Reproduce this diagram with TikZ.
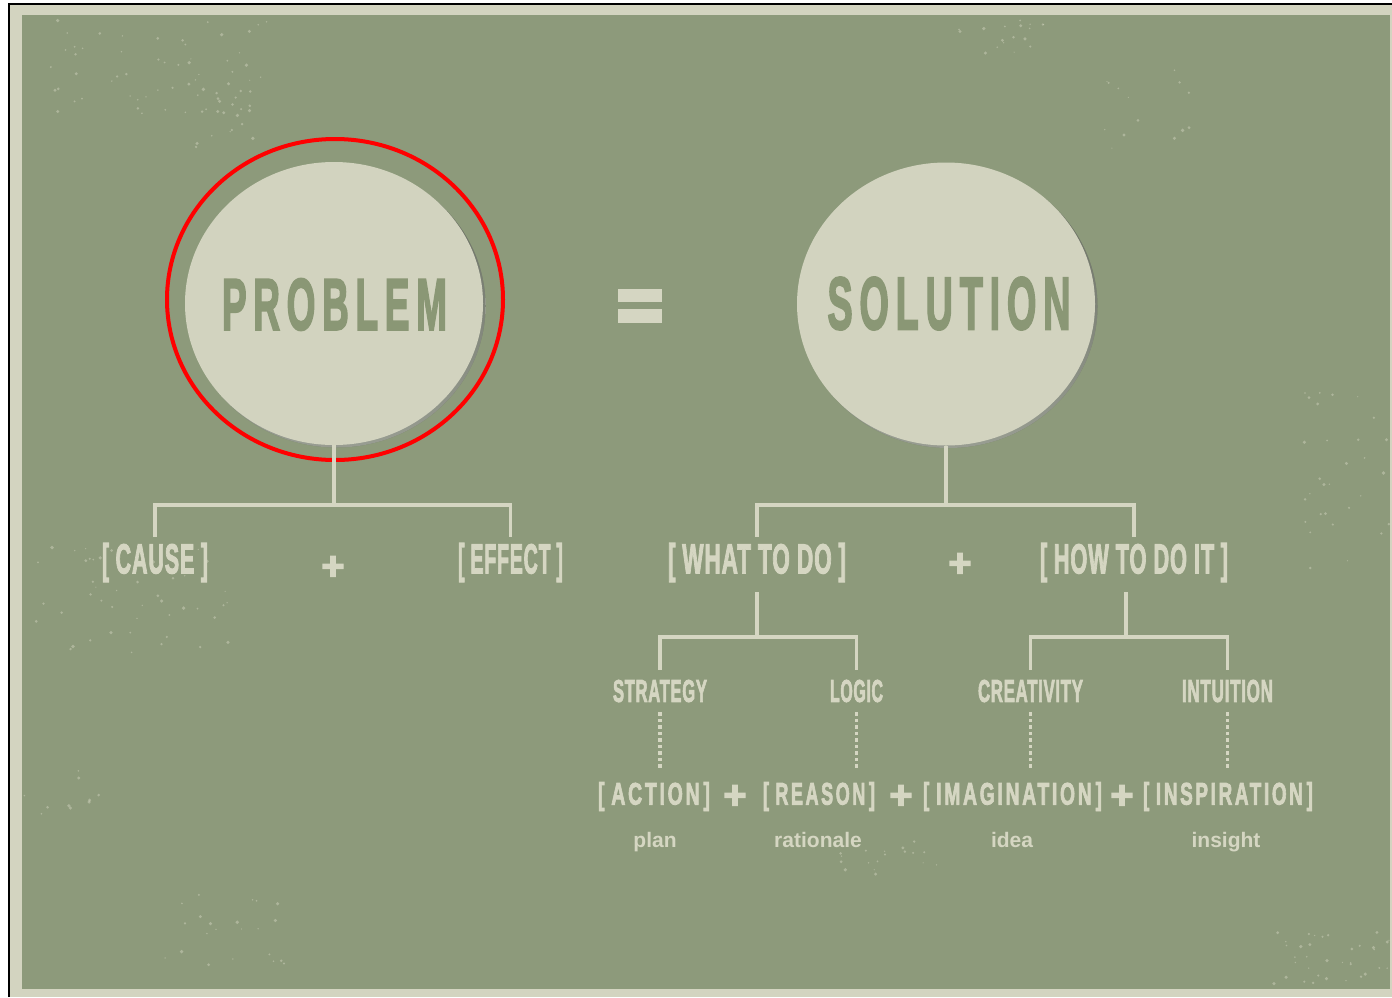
\documentclass[tikz,border=0pt]{standalone}
\usepackage{fontspec}
\setmainfont{Liberation Sans}
\newfontfamily\heavy{Liberation Sans}[BoldFeatures={FakeBold=3}]
\newfontfamily\heavysp{Liberation Sans}[BoldFeatures={FakeBold=3, LetterSpace=18}]
\newfontfamily\heavymid{Liberation Sans}[BoldFeatures={FakeBold=3, LetterSpace=4}]
\newfontfamily\heavywide{Liberation Sans}[BoldFeatures={FakeBold=3, LetterSpace=14}]
\usepackage{graphicx}
\usetikzlibrary{shapes.geometric}
\definecolor{bg}{HTML}{8D9A7B}
\definecolor{framec}{HTML}{D3D4C0}
\definecolor{ink}{HTML}{D5D6C2}
\definecolor{disc}{HTML}{D2D3BF}
\definecolor{darkink}{HTML}{8A9775}
\definecolor{shade}{HTML}{7D896B}
\definecolor{hl}{HTML}{FF0000}
\newcommand{\capsfit}[3]{\resizebox{#1pt}{#2pt}{\heavymid\bfseries #3}}
\newcommand{\bigfit}[3]{\resizebox{#1pt}{#2pt}{\heavysp\bfseries #3}}
\newcommand{\brkfit}[3]{\resizebox*{#1pt}{#2pt}{\heavymid\bfseries [\hspace{0.3em}#3\hspace{0.3em}]}}
\newcommand{\brkwide}[3]{\resizebox*{#1pt}{#2pt}{\heavywide\bfseries [\hspace{0.35em}#3\hspace{0.2em}]}}
\newcommand{\specks}[5]{%
  \foreach \k in {1,...,#5}{%
    \pgfmathsetmacro{\spx}{#1+#3*rand}%
    \pgfmathsetmacro{\spy}{#2+#4*rand}%
    \pgfmathsetmacro{\spr}{0.6+1.3*rnd}%
    \fill[ink, opacity=0.45] (\spx,\spy) circle[radius=\spr];
  }}
\tikzset{
  lbl/.style={text=ink, inner xsep=0pt, inner ysep=6pt},
  caplbl/.style={text=ink, inner xsep=0pt, inner ysep=10pt},
  lowlbl/.style={text=ink, inner xsep=0pt, inner ysep=12pt},
  tree/.style={draw=ink, line width=3.5pt, line join=miter},
  dots/.style={draw=ink, line width=3.5pt, dash pattern=on 3.5pt off 3pt},
  plussign/.style={text=ink, font=\fontsize{40}{40}\selectfont\heavy\bfseries, inner sep=0pt},
  sublbl/.style={text=ink, font=\fontsize{21}{22}\selectfont\bfseries, inner sep=0pt, anchor=base},
  disk/.style={ellipse, fill=disc, minimum width=298pt, minimum height=283pt, inner sep=0pt},
  disktext/.style={text=darkink, inner sep=0pt},
}
\begin{document}
\begin{tikzpicture}[x=1pt,y=-1pt]
\useasboundingbox (0,0) rectangle (1392,997);
\fill[white] (0,0) rectangle (1392,997);
\fill[framec] (9,4) rectangle (1392,997);
\draw[black, line width=1.2pt] (9,997) -- (9,4) -- (1392,4);
\fill[bg] (22,15) rectangle (1390,989);

% texture specks
\pgfmathsetseed{11}
\specks{160}{70}{110}{50}{60}
\specks{220}{120}{35}{35}{15}
\specks{1000}{35}{45}{20}{18}
\specks{1150}{110}{50}{40}{14}
\specks{130}{600}{100}{55}{45}
\specks{1345}{480}{45}{90}{30}
\specks{225}{930}{60}{40}{22}
\specks{1330}{960}{60}{28}{35}
\specks{900}{865}{60}{25}{18}
\specks{60}{800}{40}{30}{10}

% circles
\fill[shade, opacity=0.4] (336.5,306) ellipse [x radius=149, y radius=141.5];
\fill[shade, opacity=0.4] (948.5,306.5) ellipse [x radius=149, y radius=141.5];
\node[disk] (prob) at (334,303.5) {};
\node[disk] (sol) at (946,304) {};
\node[disktext] (probt) at (334.5,304.5) {\bigfit{225}{51}{PROBLEM}};
\node[disktext] (solt) at (949,303.5) {\bigfit{243}{52}{SOLUTION}};
\draw[hl, line width=4pt] (335,299.5) ellipse [x radius=168, y radius=160.5];

% equals sign
\node (eq) at (640,306) {};
\fill[ink] (618,289) rectangle (662,302);
\fill[ink] (618,309) rectangle (662,323);

% second row
\node[lbl] (cause) at (155,562.5) {\brkfit{106}{39}{CAUSE}};
\node[plussign] (p1) at (333,568) {+};
\node[lbl] (effect) at (510.5,562.5) {\brkfit{105}{39}{EFFECT}};
\node[lbl] (what) at (757,562.5) {\brkfit{178}{39}{WHAT TO DO}};
\node[plussign] (p2) at (960,565) {+};
\node[lbl] (how) at (1134,562.5) {\brkfit{188}{39}{HOW TO DO IT}};

% third row
\node[caplbl] (strat) at (660,691) {\capsfit{94}{22}{STRATEGY}};
\node[caplbl] (logic) at (856.5,691) {\capsfit{53}{22}{LOGIC}};
\node[caplbl] (creat) at (1030.5,691) {\capsfit{105}{22}{CREATIVITY}};
\node[caplbl] (intu) at (1227.5,691) {\capsfit{91}{22}{INTUITION}};

% fourth row
\node[lowlbl] (action) at (654,796.5) {\brkwide{112}{29}{ACTION}};
\node[plussign] (p3) at (735,797) {+};
\node[lowlbl] (reason) at (819,796.5) {\brkwide{112}{29}{REASON}};
\node[plussign] (p4) at (901,797) {+};
\node[lowlbl] (imag) at (1012.5,796.5) {\brkwide{179}{29}{IMAGINATION}};
\node[plussign] (p5) at (1122,797) {+};
\node[lowlbl] (insp) at (1228,796.5) {\brkwide{170}{29}{INSPIRATION}};

% sub labels
\node[sublbl] (plan) at (655,847) {plan};
\node[sublbl] (rat) at (818,847) {rationale};
\node[sublbl] (idea) at (1012,847) {idea};
\node[sublbl] (ins) at (1226,847) {insight};

% tree connectors
\coordinate (pj) at (334,505);
\draw[tree] (prob.south) -- (pj);
\draw[tree] (cause.north) -- (cause.north |- pj) -- (effect.north |- pj) -- (effect.north);
\coordinate (sj) at (946,505);
\draw[tree] (sol.south) -- (sj);
\draw[tree] (what.north) -- (what.north |- sj) -- (how.north |- sj) -- (how.north);
\coordinate (wj) at (757,637);
\draw[tree, shorten <=4pt] (what.south) -- (wj);
\draw[tree] (strat.north) -- (strat.north |- wj) -- (logic.north |- wj) -- (logic.north);
\coordinate (hj) at (1126,637);
\draw[tree, shorten <=4pt] (how.south -| hj) -- (hj);
\draw[tree] (creat.north) -- (creat.north |- hj) -- (intu.north |- hj) -- (intu.north);

% dotted links
\draw[dots] (strat.south) -- (strat.south |- action.north);
\draw[dots] (logic.south) -- (logic.south |- reason.north);
\draw[dots] (creat.south) -- (creat.south |- imag.north);
\draw[dots] (intu.south) -- (intu.south |- insp.north);
\end{tikzpicture}
\end{document}
